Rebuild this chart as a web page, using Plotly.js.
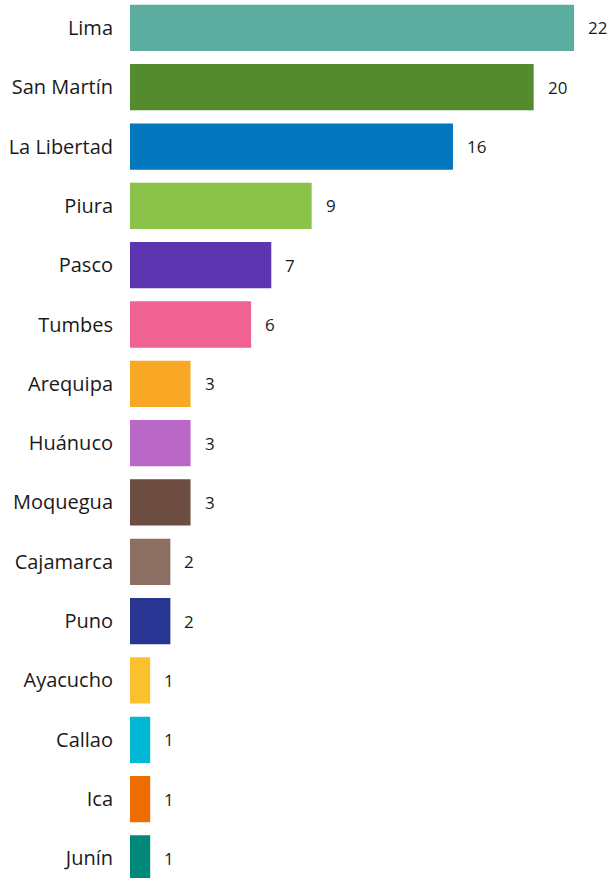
<!DOCTYPE html>
<html>
<head>
<meta charset="utf-8">
<script src="https://cdn.plot.ly/plotly-3.0.1.min.js"></script>
<style>html,body{margin:0;padding:0;background:#fff;}#chart{width:611px;height:878px;}</style>
</head>
<body>
<div id="chart"></div>
<script>
const regions = ["Lima","San Martín","La Libertad","Piura","Pasco","Tumbes","Arequipa","Huánuco","Moquegua","Cajamarca","Puno","Ayacucho","Callao","Ica","Junín"];
const counts = [22,20,16,9,7,6,3,3,3,2,2,1,1,1,1];
const barColors = ["#5BAE9F","#558B2F","#0277BD","#8BC34A","#5E35B1","#F06292","#F9A825","#BA68C8","#6D4C41","#8D6E63","#283593","#FBC02D","#00B8D4","#EF6C00","#00897B"];

const trace = {
  type: "bar",
  orientation: "h",
  x: counts,
  y: regions,
  marker: {color: barColors},
  hoverinfo: "none"
};

const annotations = regions.map((r, i) => ({
  x: counts[i], y: r, xref: "x", yref: "y",
  text: String(counts[i]), showarrow: false,
  xanchor: "left", xshift: 12,
  font: {family: "Open Sans, Noto Sans, sans-serif", size: 17, color: "#1a1a1a"}
}));

const layout = {
  width: 611, height: 878,
  margin: {l: 130, r: 0, t: 0, b: 0},
  paper_bgcolor: "#fff", plot_bgcolor: "#fff",
  bargap: 0.22,
  showlegend: false,
  xaxis: {range: [0, 23.83], visible: false, fixedrange: true},
  yaxis: {
    type: "category",
    range: [14.33, -0.47],
    showgrid: false, zeroline: false, showline: false,
    ticks: "outside", ticklen: 12, tickcolor: "rgba(0,0,0,0)",
    tickfont: {family: "Open Sans, Noto Sans, sans-serif", size: 20, color: "#1a1a1a"}
  },
  annotations: annotations
};

Plotly.newPlot("chart", [trace], layout, {displayModeBar: false, staticPlot: true});
</script>
</body>
</html>
